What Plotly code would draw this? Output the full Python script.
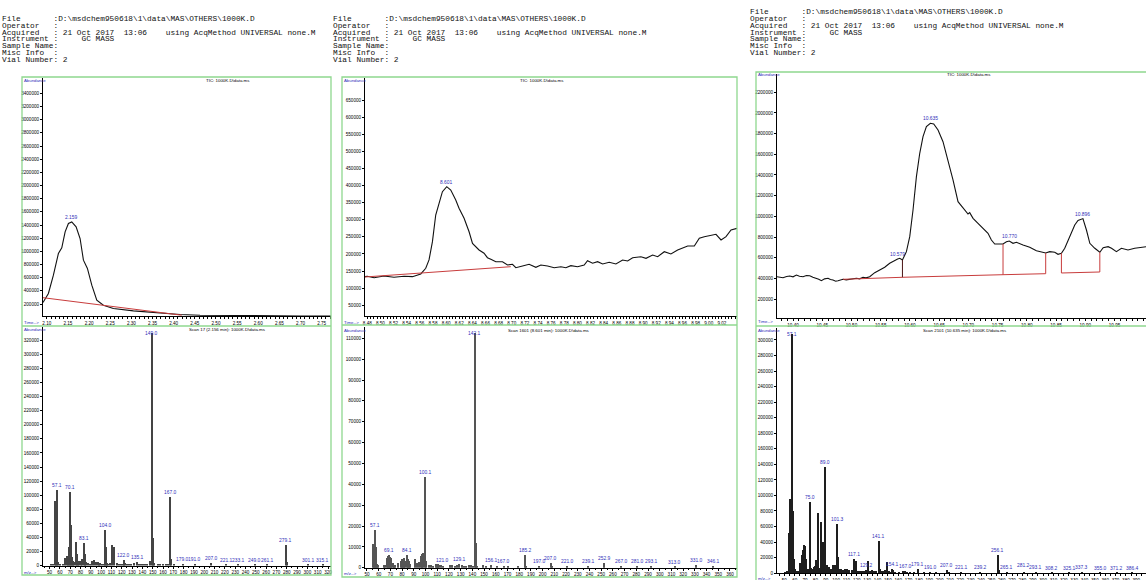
import plotly.graph_objects as go

W, H = 1146, 580

# ------------------------------------------------------------------ data
HEADER_LINES = [
    "File       :D:\\msdchem950618\\1\\data\\MAS\\OTHERS\\1000K.D",
    "Operator   :",
    "Acquired   : 21 Oct 2017  13:06    using AcqMethod UNIVERSAL none.M",
    "Instrument :     GC MASS",
    "Sample Name:",
    "Misc Info  :",
    "Vial Number: 2",
]
TIC_TITLE = "TIC: 1000K.D\\data.ms"
SCAN_TITLES = [
    "Scan 17 (2.156 min): 1000K.D\\data.ms",
    "Scan 1601 (8.601 min): 1000K.D\\data.ms",
    "Scan 2101 (10.635 min): 1000K.D\\data.ms",
]

# TIC 1 (retention time, min / abundance)
tic1_t = [2.091, 2.1038, 2.1156, 2.1274, 2.1354, 2.1433, 2.1511, 2.159, 2.1693, 2.1787,
          2.1866, 2.196, 2.2064, 2.2182, 2.2338, 2.2574, 2.3047, 2.36, 2.4151, 2.4624,
          2.541, 2.62, 2.70, 2.772]
tic1_a = [223000, 360000, 638000, 967000, 1053000, 1296000, 1423000, 1447000, 1372000, 1195000,
          866000, 740000, 486000, 258000, 182000, 132000, 96000, 65000, 41000, 30000,
          23000, 20000, 19000, 18500]
tic1_peaks = [2.159]
tic1_base_t = [2.091, 2.419]
tic1_base_a = [296000, 30000]

# TIC 2
tic2_t = [8.4699, 8.4801, 8.4904, 8.5054, 8.5207, 8.5359, 8.5487, 8.5614, 8.569, 8.574,
          8.5792, 8.5842, 8.5893, 8.5944, 8.601, 8.6071, 8.6147, 8.6197, 8.6274, 8.635,
          8.6402, 8.6502, 8.6578, 8.663, 8.6681, 8.6757, 8.6859, 8.6935, 8.7011, 8.7062,
          8.7164, 8.7264, 8.7367, 8.7443, 8.7545, 8.7646, 8.7748, 8.7824, 8.79, 8.8002,
          8.8103, 8.8154, 8.8231, 8.8307, 8.8384, 8.8484, 8.8586, 8.8688, 8.8764, 8.8841,
          8.8967, 8.9044, 8.9145, 8.9222, 8.9323, 8.9424, 8.9526, 8.9603, 8.9679, 8.978,
          8.9856, 8.9932, 9.0034, 9.011, 9.0187, 9.0263, 9.0339, 9.043]
tic2_a = [131700, 134600, 130600, 135500, 131700, 134600, 133500, 141400, 158000, 182400,
          236000, 314000, 348300, 382300, 397000, 387000, 358000, 333700, 304400, 265000,
          231000, 211600, 202000, 189000, 184400, 177400, 177400, 167700, 169800, 159800,
          164800, 169800, 161000, 167700, 164800, 159800, 162700, 159800, 165700, 162700,
          167700, 180300, 172700, 177400, 170600, 175600, 170600, 182300, 179400, 189100,
          192000, 187300, 197000, 192000, 206600, 200000, 211600, 218400, 223300, 223300,
          245900, 250600, 253500, 257600, 240900, 250600, 270200, 275000]
tic2_peaks = [8.601]
tic2_base_t = [8.4699, 8.6985]
tic2_base_a = [131700, 162700]

# TIC 3
tic3_t = [10.3726, 10.378, 10.3829, 10.389, 10.3944, 10.40, 10.4058, 10.411, 10.4171, 10.423,
          10.4286, 10.434, 10.44, 10.444, 10.4486, 10.454, 10.4599, 10.464, 10.4684, 10.473,
          10.477, 10.481, 10.4855, 10.491, 10.497, 10.503, 10.5085, 10.514, 10.5198, 10.525,
          10.5312, 10.5398, 10.5483, 10.5569, 10.5654, 10.572, 10.579, 10.5826, 10.5872, 10.594,
          10.5997, 10.6053, 10.6111, 10.6168, 10.6224, 10.6282, 10.635, 10.6407, 10.6481, 10.6566,
          10.6652, 10.6737, 10.6823, 10.6908, 10.6994, 10.7023, 10.708, 10.7165, 10.7251, 10.7336,
          10.7394, 10.7451, 10.7536, 10.7593, 10.7651, 10.770, 10.7764, 10.7822, 10.7935, 10.805,
          10.8164, 10.825, 10.8323, 10.8392, 10.8478, 10.8534, 10.8592, 10.8649, 10.8734, 10.882,
          10.8876, 10.8917, 10.896, 10.902, 10.9078, 10.9163, 10.9249, 10.9306, 10.9391, 10.9449,
          10.9533, 10.9618, 10.9731, 10.9846, 10.996, 11.004]
tic3_a = [416000, 410000, 406400, 418000, 422800, 415000, 432500, 420000, 416000, 428000,
          425700, 410000, 400600, 392000, 377400, 395000, 400600, 388000, 384100, 372000,
          377400, 385000, 390900, 385000, 390900, 398000, 400600, 395000, 410300, 405000,
          416000, 454800, 480900, 507000, 545700, 570000, 588000, 594100, 577700, 658000,
          803100, 1061500, 1383700, 1610000, 1770700, 1867500, 1900000, 1893600, 1835500, 1722300,
          1545300, 1351700, 1141800, 1077900, 1022700, 1035300, 981100, 932800, 884400, 836000,
          771200, 732500, 732500, 732500, 754700, 761500, 739200, 748900, 722800, 700500,
          667600, 658000, 645400, 658000, 652200, 632800, 642500, 690900, 803100, 916300,
          960000, 970000, 978000, 867900, 739200, 690900, 652200, 696700, 706300, 690900,
          658000, 690900, 674400, 690900, 696700, 706300]
tic3_peaks = [10.579, 10.635, 10.770, 10.896]
tic3_base1_t = [10.4855, 10.5872, 10.7593, 10.8323]
tic3_base1_a = [390900, 410300, 435400, 445100]
tic3_base2_t = [10.8592, 10.9249]
tic3_base2_a = [451900, 461500]

# Mass spectrum 1 (m/z / abundance)
ms1_mz = [51, 53, 55, 56, 57.1, 58, 60, 63, 65, 67,
          68, 69, 70.1, 71, 72, 73, 74, 76, 77, 78,
          79, 81, 82, 83.1, 84, 85, 87, 89, 91, 93,
          95, 97, 98, 99, 101, 103, 104.0, 105, 106, 107,
          109, 111, 113, 115, 117, 119, 121, 122.0, 123, 125,
          127, 129, 132, 135.1, 137, 139, 141, 143, 145, 147,
          149.0, 150, 151, 155, 157, 160, 163, 165, 167.0, 168,
          171, 179.0, 191.0, 207.0, 221.1, 233.1, 249.0, 261.1, 279.1, 280,
          301.1, 315.1]
ms1_ab = [1500, 2500, 91000, 29500, 107600, 4300, 1500, 2000, 10500, 13800,
          4000, 27000, 104000, 57900, 12000, 7000, 5000, 34100, 16500, 5000,
          6000, 6500, 9000, 32000, 17000, 5000, 3000, 2500, 6000, 8500,
          5000, 5000, 4000, 3000, 2000, 2500, 50000, 25600, 3000, 2000,
          3000, 29000, 27000, 3000, 1500, 2000, 2500, 8100, 3000, 2000,
          1500, 2000, 3500, 4500, 1500, 2000, 2000, 1500, 1500, 6500,
          330000, 39000, 3000, 1000, 1000, 1500, 2500, 2000, 98000, 9100,
          1000, 2000, 1500, 3500, 1200, 1000, 1000, 1000, 29600, 4500,
          1200, 1200]
ms1_labels = [57.1, 70.1, 83.1, 104.0, 122.0, 135.1, 149.0, 167.0, 179.0, 191.0,
              207.0, 221.1, 233.1, 249.0, 261.1, 279.1, 301.1, 315.1]

# Mass spectrum 2
ms2_mz = [55, 56, 57.1, 58, 59, 60, 65, 66, 67, 68,
          69.1, 70, 71, 72, 73, 74, 77, 79, 80, 81,
          82, 83, 84.1, 85, 86, 87, 91, 93, 95, 96,
          97, 98, 100.1, 101, 103, 105, 107, 109, 110, 111,
          112, 113, 115, 121.0, 123, 125, 127, 129.1, 131, 133,
          135, 137, 139, 141, 142.1, 143, 144, 149, 152, 156.1,
          161, 167.0, 171, 179, 185.2, 186, 197.0, 207.0, 208, 221.0,
          239.1, 252.9, 267.0, 281.0, 293.1, 313.0, 331.0, 346.1]
ms2_ab = [11500, 5000, 18300, 10200, 2000, 1500, 1500, 1500, 4500, 5500,
          6200, 5000, 4800, 2500, 1500, 1200, 2500, 3500, 4200, 3800,
          4500, 3500, 6200, 4000, 3500, 2000, 4000, 2500, 3000, 5800,
          6800, 7200, 43700, 3400, 1500, 1200, 1000, 2000, 1800, 2000,
          1500, 1200, 1000, 1500, 1200, 1000, 1500, 2000, 1200, 1000,
          1000, 1200, 1500, 1000, 112500, 11800, 1000, 1500, 800, 1200,
          600, 900, 700, 600, 6200, 1000, 800, 2500, 700, 800,
          700, 2200, 700, 900, 700, 600, 1200, 900]
ms2_labels = [57.1, 69.1, 84.1, 100.1, 121.0, 129.1, 142.1, 156.1, 167.0, 185.2,
              197.0, 207.0, 221.0, 239.1, 252.9, 267.0, 281.0, 293.1, 313.0, 331.0, 346.1]

# Mass spectrum 3
ms3_mz = [51, 53, 55, 56, 57.1, 58, 59, 60, 61, 63,
          65, 66, 67, 68, 69, 70, 71, 72, 73, 74,
          75.0, 76, 77, 79, 80, 81, 82, 83, 84, 85,
          86, 87, 88, 89.0, 90, 91, 93, 95, 97, 98,
          99, 100, 101.3, 102, 103, 105, 107, 109, 110, 111,
          113, 115, 117.1, 118, 119, 121, 123, 125, 127, 129.2,
          131, 133, 135, 137, 139, 141.1, 142, 143, 145, 147,
          149, 151, 153, 154.1, 155, 157, 161, 165, 167.0, 169,
          171, 175, 179.1, 185, 191.0, 197, 207.0, 209, 221.1, 239.2,
          256.1, 257, 265.1, 281.2, 293.1, 308.2, 325.1, 337.3, 355.0, 371.2,
          386.4]
ms3_ab = [1500, 2500, 52000, 96000, 308000, 80000, 18000, 5000, 3000, 3000,
          13000, 4000, 23000, 30000, 36000, 35000, 18000, 6000, 5000, 4000,
          92000, 7000, 6000, 8000, 9000, 17000, 9000, 77000, 7000, 66000,
          8000, 40000, 9000, 136000, 8000, 10000, 8000, 6000, 11000, 10000,
          10000, 11000, 63000, 21000, 6000, 5000, 4000, 5000, 4000, 6000,
          4000, 3500, 18000, 3500, 16000, 3000, 2500, 2500, 2500, 3500,
          16000, 3000, 4000, 3000, 2500, 42000, 5000, 3000, 3000, 4000,
          15000, 2500, 2000, 5500, 3500, 2000, 2000, 2500, 3000, 1500,
          1500, 1500, 6000, 1500, 2000, 1000, 3500, 1000, 1500, 1200,
          23500, 3500, 1200, 1500, 1200, 900, 900, 1000, 800, 800,
          700]
ms3_labels = [57.1, 75.0, 89.0, 101.3, 117.1, 129.2, 141.1, 154.1, 167.0, 179.1,
              191.0, 207.0, 221.1, 239.2, 256.1, 265.1, 281.2, 293.1, 308.2, 325.1,
              337.3, 355.0, 371.2, 386.4]

# axis tick values
tic1_yticks = list(range(200000, 3400001, 200000))
tic2_yticks = list(range(50000, 650001, 50000))
tic3_yticks = list(range(200000, 2200001, 200000))
ms1_yticks = list(range(0, 320001, 20000))
ms2_yticks = list(range(0, 110001, 10000))
ms3_yticks = list(range(0, 300001, 20000))
tic2_xticks = [round(8.48 + 0.02 * i, 2) for i in range(28)]

# ------------------------------------------------------------------ styling
SANS = "Liberation Sans, Arial, sans-serif"
MONO = "Liberation Mono, Courier New, monospace"
BLUE = "#2f2fb8"
GREEN = "#8fd88f"
RED = "#c83c3c"

# label nudges (pixels) where neighbouring labels would collide
LABEL_NUDGE = {("x4", 121.0): (-8, 0), ("x6", 281.2): (0, 2)}


def fx(p):
    return p / W


def fy(p):
    return 1 - p / H


def xdom(a, b):
    return [fx(a), min(1.0, fx(b))]


def ydom(top, bottom):
    return [fy(bottom), fy(top)]


def axis(**kw):
    d = dict(showline=True, linecolor="black", linewidth=1, showgrid=False, zeroline=False,
             ticks="outside", ticklen=2, tickwidth=1, tickcolor="black", tickangle=0,
             tickfont=dict(family=SANS, size=4.6, color="black"), automargin=False,
             fixedrange=True)
    d.update(kw)
    return d


fig = go.Figure()

# chromatogram lines
for t, a, xa, ya in [(tic1_t, tic1_a, "x", "y"), (tic2_t, tic2_a, "x3", "y3"),
                     (tic3_t, tic3_a, "x5", "y5")]:
    fig.add_trace(go.Scatter(x=t, y=a, mode="lines", xaxis=xa, yaxis=ya,
                             line=dict(color="#111111", width=1.1)))

# integration baselines
fig.add_trace(go.Scatter(x=tic1_base_t, y=tic1_base_a, mode="lines", xaxis="x", yaxis="y",
                         line=dict(color=RED, width=1)))
fig.add_trace(go.Scatter(x=tic2_base_t, y=tic2_base_a, mode="lines", xaxis="x3", yaxis="y3",
                         line=dict(color=RED, width=1)))

bx, by = [], []
for seg_t, seg_a, drops in [(tic3_base1_t, tic3_base1_a, [2, 3]),
                            (tic3_base2_t, tic3_base2_a, [0, 1])]:
    bx += seg_t + [None]
    by += seg_a + [None]
    for i in drops:
        bx += [seg_t[i], seg_t[i], None]
        by += [seg_a[i], tic3_a[tic3_t.index(seg_t[i])], None]
fig.add_trace(go.Scatter(x=bx, y=by, mode="lines", xaxis="x5", yaxis="y5",
                         line=dict(color=RED, width=1)))
t0 = tic3_base1_t[1]
fig.add_trace(go.Scatter(x=[t0, t0], y=[tic3_base1_a[1], tic3_a[tic3_t.index(t0)]],
                         mode="lines", xaxis="x5", yaxis="y5",
                         line=dict(color="#4a1515", width=1)))

# mass spectra
for mz, ab, xa, ya, w, col in [(ms1_mz, ms1_ab, "x2", "y2", 1.2, "#444444"),
                               (ms2_mz, ms2_ab, "x4", "y4", 1.3, "#555555"),
                               (ms3_mz, ms3_ab, "x6", "y6", 1.1, "#1e1e1e")]:
    fig.add_trace(go.Bar(x=mz, y=ab, width=w, xaxis=xa, yaxis=ya,
                         marker=dict(color=col, line=dict(width=0))))

# ------------------------------------------------------------------ axes
layout = dict(
    xaxis=axis(domain=xdom(43, 331), range=[2.091, 2.772], anchor="y",
               tickmode="linear", tick0=2.10, dtick=0.05, tickformat=".2f",
               minor=dict(ticks="outside", ticklen=1.5, dtick=0.01, tickcolor="black")),
    yaxis=axis(domain=ydom(78, 316), range=[18000, 3633000], anchor="x",
               tickmode="array", tickvals=tic1_yticks, tickformat="d"),
    xaxis2=axis(domain=xdom(43, 331), range=[43.6, 322.9], anchor="y2",
                tickmode="linear", tick0=50, dtick=10,
                minor=dict(ticks="outside", ticklen=1.5, dtick=5, tickcolor="black")),
    yaxis2=axis(domain=ydom(327, 565.5), range=[0, 339000], anchor="x2",
                tickmode="array", tickvals=ms1_yticks, tickformat="d"),
    xaxis3=axis(domain=xdom(365, 737), range=[8.4765, 9.043], anchor="y3",
                tickmode="array", tickvals=tic2_xticks, tickformat=".2f",
                minor=dict(ticks="outside", ticklen=1.5, tickmode="linear", tick0=8.48,
                           dtick=0.005, tickcolor="black")),
    yaxis3=axis(domain=ydom(78, 316), range=[18400, 715000], anchor="x3",
                tickmode="array", tickvals=tic2_yticks, tickformat="d"),
    xaxis4=axis(domain=xdom(365, 737), range=[48.3, 366], anchor="y4",
                tickmode="linear", tick0=50, dtick=10,
                minor=dict(ticks="outside", ticklen=1.5, dtick=5, tickcolor="black")),
    yaxis4=axis(domain=ydom(327, 567.8), range=[0, 115400], anchor="x4",
                tickmode="array", tickvals=ms2_yticks, tickformat="d"),
    xaxis5=axis(domain=xdom(777, 1146), range=[10.3726, 11.0039], anchor="y5",
                tickmode="linear", tick0=10.40, dtick=0.05, tickformat=".2f",
                minor=dict(ticks="outside", ticklen=1.5, dtick=0.01, tickcolor="black")),
    yaxis5=axis(domain=ydom(74, 318.3), range=[13500, 2377000], anchor="x5",
                tickmode="array", tickvals=tic3_yticks, tickformat="d"),
    xaxis6=axis(domain=xdom(777, 1146), range=[42.9, 399.4], anchor="y6",
                tickmode="linear", tick0=50, dtick=10,
                minor=dict(ticks="outside", ticklen=1.5, dtick=5, tickcolor="black")),
    yaxis6=axis(domain=ydom(328, 573.2), range=[0, 315300], anchor="x6",
                tickmode="array", tickvals=ms3_yticks, tickformat="d"),
)

# ------------------------------------------------------------------ text
ann = []


def text(x, y, s, size=4.6, color="black", xanchor="center", family=SANS):
    ann.append(dict(xref="paper", yref="paper", x=fx(x), y=fy(y), text=s, showarrow=False,
                    xanchor=xanchor, yanchor="middle", borderpad=0,
                    font=dict(family=family, size=size, color=color)))


# instrument header blocks
for x0, y0 in [(1, 19.0), (332, 19.0), (749, 12.3)]:
    for i, line in enumerate(HEADER_LINES):
        text(x0, y0 + 6.8 * i, line.replace(" ", "\u00a0"), size=7.8, color="#111111",
             xanchor="left", family=MONO)

# panel captions
for bx0, tic_top, ms_top, time_y, mz_y, tic_cx, ms_cx, scan in [
        (22.5, 80, 329, 322, 572, 228, 227, SCAN_TITLES[0]),
        (342.5, 80, 330, 322, 573, 542, 549, SCAN_TITLES[1]),
        (757, 74, 330, 321, 578, 969, 965, SCAN_TITLES[2])]:
    text(bx0, tic_top, "Abundance", size=4.3, color=BLUE, xanchor="left")
    text(bx0, ms_top, "Abundance", size=4.3, color=BLUE, xanchor="left")
    text(bx0, time_y, "Time-->", size=4.3, color=BLUE, xanchor="left")
    text(bx0, mz_y, "m/z-->", size=4.3, color=BLUE, xanchor="left")
    text(tic_cx, tic_top, TIC_TITLE, size=4.4)
    text(ms_cx, ms_top, scan, size=4.4)


def peak_labels(t, a, peaks, xa, ya, fmt):
    for p in peaks:
        ann.append(dict(xref=xa, yref=ya, x=p, y=a[t.index(p)], text=fmt.format(p),
                        showarrow=False, yanchor="bottom", yshift=1, borderpad=0,
                        font=dict(family=SANS, size=4.9, color=BLUE)))


peak_labels(tic1_t, tic1_a, tic1_peaks, "x", "y", "{:.3f}")
peak_labels(tic2_t, tic2_a, tic2_peaks, "x3", "y3", "{:.3f}")
peak_labels(tic3_t, tic3_a, tic3_peaks, "x5", "y5", "{:.3f}")


def ms_labels(mz, ab, labels, xa, ya, ytop):
    for m in labels:
        a = ab[mz.index(m)]
        dx, dy = LABEL_NUDGE.get((xa, m), (0, 0))
        if a > 0.93 * ytop:
            pos = dict(y=ytop, yanchor="top", yshift=-3 + dy)
        else:
            pos = dict(y=a, yanchor="bottom", yshift=1 + dy)
        ann.append(dict(xref=xa, yref=ya, x=m, text="{:.1f}".format(m), showarrow=False,
                        xshift=dx, borderpad=0,
                        font=dict(family=SANS, size=4.9, color=BLUE), **pos))


ms_labels(ms1_mz, ms1_ab, ms1_labels, "x2", "y2", 339000)
ms_labels(ms2_mz, ms2_ab, ms2_labels, "x4", "y4", 115400)
ms_labels(ms3_mz, ms3_ab, ms3_labels, "x6", "y6", 315300)

# ------------------------------------------------------------------ frames
shapes = []
for x0, x1, top, mid, bottom in [(22, 331, 77, 326, 575), (342, 737, 77, 325, 577),
                                 (756, 1170, 72, 326, 600)]:
    shapes.append(dict(type="rect", xref="paper", yref="paper", x0=fx(x0), x1=fx(x1),
                       y0=fy(bottom), y1=fy(top), line=dict(color=GREEN, width=1.3)))
    shapes.append(dict(type="line", xref="paper", yref="paper", x0=fx(x0), x1=fx(x1),
                       y0=fy(mid), y1=fy(mid), line=dict(color=GREEN, width=1.3)))

fig.update_layout(
    **layout,
    annotations=ann,
    shapes=shapes,
    width=W, height=H,
    margin=dict(l=0, r=0, t=0, b=0),
    template="none",
    paper_bgcolor="white",
    plot_bgcolor="rgba(0,0,0,0)",
    showlegend=False,
    hovermode=False,
    bargap=0,
)

fig.write_html("out.html", config={"displayModeBar": False})
